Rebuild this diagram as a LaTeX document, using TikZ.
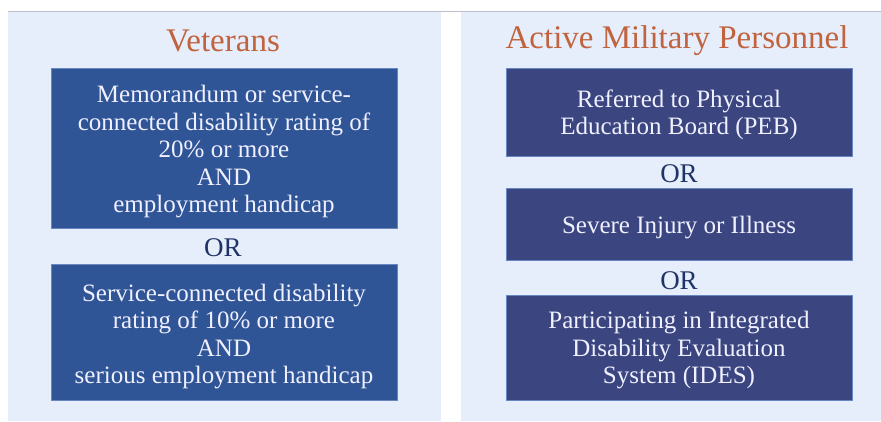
\documentclass[tikz,border=0pt]{standalone}
\usepackage{fontspec}
\setmainfont{Liberation Serif}
\definecolor{panel}{HTML}{E6EDFB}
\definecolor{leftbox}{HTML}{2F5597}
\definecolor{rightbox}{HTML}{3B4680}
\definecolor{boxline}{HTML}{6A86C0}
\definecolor{titlecol}{HTML}{C0633E}
\definecolor{orcol}{HTML}{1F3466}
\definecolor{topline}{HTML}{BDBDCB}
\begin{document}
\begin{tikzpicture}[x=1bp,y=-1bp,
  panelbox/.style={fill=panel,draw=none},
  vbox/.style={rectangle,fill=leftbox,draw=boxline,line width=0.8bp,
    inner sep=0pt,minimum width=346bp},
  abox/.style={vbox,fill=rightbox},
  boxtext/.style={text=white!94!blue,font=\fontsize{25bp}{27.5bp}\selectfont,
    align=center,inner sep=0pt},
  titletext/.style={text=titlecol,font=\fontsize{33bp}{36bp}\selectfont,inner sep=0pt},
  ortext/.style={text=orcol,font=\fontsize{27bp}{30bp}\selectfont,inner sep=0pt}]
\useasboundingbox (0,0) rectangle (881,421);
\fill[white] (0,0) rectangle (881,421);
\fill[panelbox] (8,11) rectangle (441,421);
\fill[panelbox] (461,11) rectangle (881,421);
\draw[topline,line width=1bp] (8,11) -- (881,11);
% left column
\node[titletext] (vt) at (223,41) {Veterans};
\node[vbox,minimum height=160bp] (v1) at (224,148) {};
\node[boxtext] (v1t) at ([yshift=-4bp]v1.center) {Memorandum or service-\\connected disability rating of\\20\% or more\\AND\\employment handicap};
\node[ortext] (or1) at (223,248) {OR};
\node[vbox,minimum height=136bp] (v2) at (224,332) {};
\node[boxtext] (v2t) at ([yshift=-4.5bp]v2.center) {Service-connected disability\\rating of 10\% or more\\AND\\serious employment handicap};
% right column
\node[titletext] (at) at (677,41) {Active Military Personnel};
\node[abox,minimum height=88bp] (a1) at (679,112) {};
\node[boxtext] (a1t) at ([yshift=-3bp]a1.center) {Referred to Physical\\Education Board (PEB)};
\node[ortext] (or2) at (679,174) {OR};
\node[abox,minimum height=72bp] (a2) at (679,224) {};
\node[boxtext] (a2t) at ([yshift=-3.5bp]a2.center) {Severe Injury or Illness};
\node[ortext] (or3) at (679,281) {OR};
\node[abox,minimum height=105bp] (a3) at (679,347.5) {};
\node[boxtext] (a3t) at ([yshift=-3bp]a3.center) {Participating in Integrated\\Disability Evaluation\\System (IDES)};
\end{tikzpicture}
\end{document}
